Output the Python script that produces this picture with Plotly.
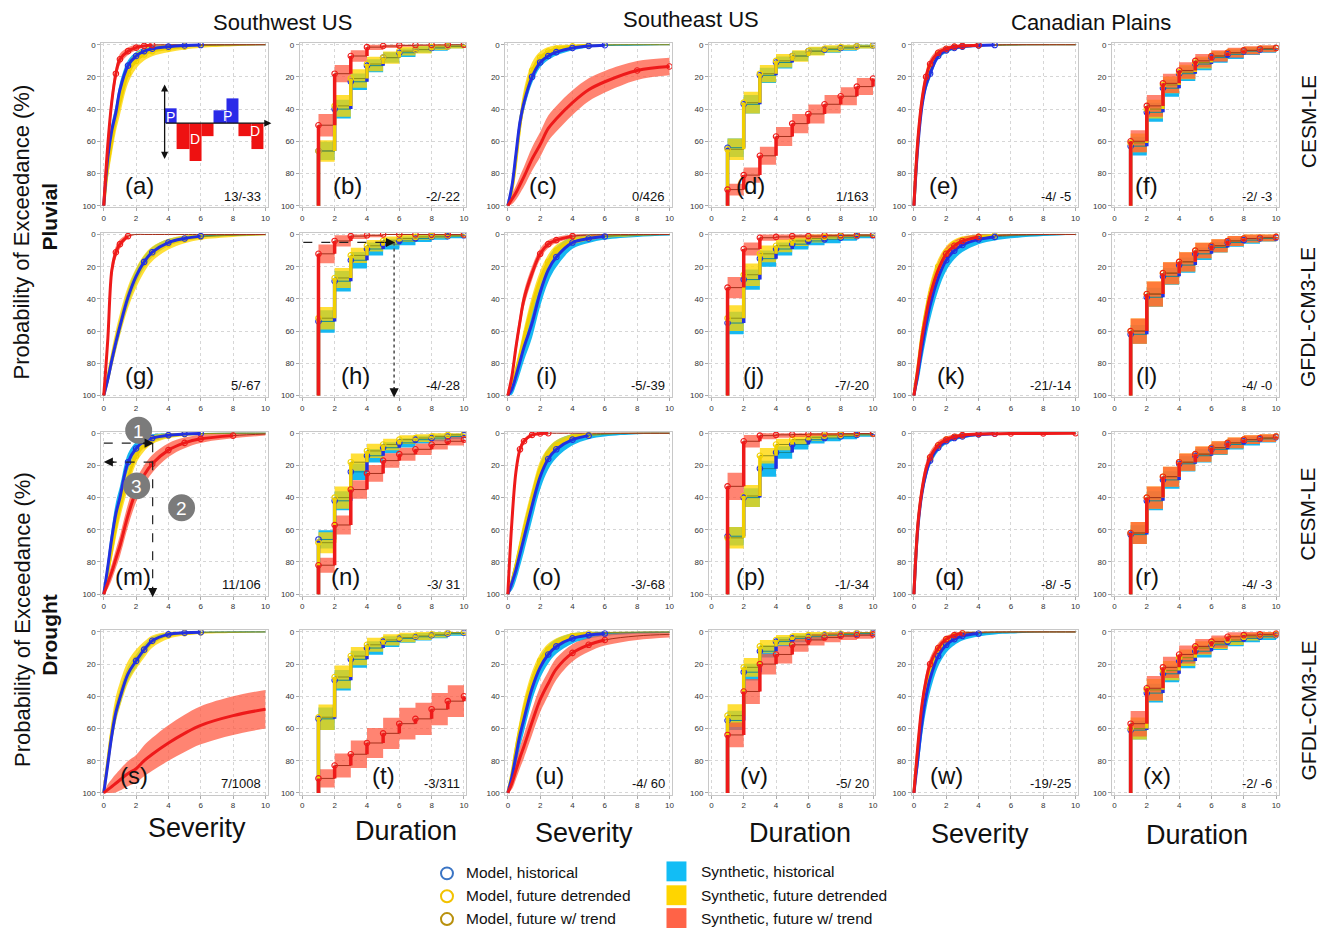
import math
import plotly.graph_objects as go

# ---------------------------------------------------------------------------
# Exceedance probabilities (%) for three experiments in every panel.
#   hist  : historical climate
#   detr  : future climate, detrended
#   trend : future climate with trend
# Severity panels are sampled on SEV_X, duration panels on DUR_X (months).
# *_band  : half-width (%) of the synthetic ensemble spread at p = 50 %
# *_obs   : largest model severity observed for each experiment
# ---------------------------------------------------------------------------
SEV_X = [0, 0.25, 0.5, 0.75, 1, 1.5, 2, 2.5, 3, 4, 5, 6, 8, 10]
DUR_X = [1, 2, 3, 4, 5, 6, 7, 8, 9, 10]

# ---- Pluvial, CESM-LE -----------------------------------------------------
a_hist = [100, 70, 53, 42, 28, 13, 7, 4, 2.5, 1.2, 0.5, 0.2, 0, 0]
a_detr = [100, 76, 60, 46, 36, 18, 10, 6, 4, 2.3, 1.2, 0.6, 0.2, 0]
a_trend = [100, 62, 35, 18, 9, 4, 1.8, 0.7, 0.2, 0, 0, 0, 0, 0]
a_band, a_obs = [5, 8, 6], [6, 5, 3]

b_hist = [66, 40, 23, 13, 8, 5, 3, 2, 1, 0]
b_detr = [66, 38, 21, 12, 8, 4, 3, 1.5, 1, 0]
b_trend = [50, 18, 7, 1.5, 0.8, 0.4, 0.2, 0.1, 0, 0]
b_band = [6, 7, 7]

c_hist = [100, 88, 68, 48, 36, 20, 11, 7, 4.6, 2, 0.8, 0.3, 0.1, 0]
c_detr = [100, 90, 72, 50, 34, 16, 8, 4.3, 2.5, 1, 0.4, 0.1, 0, 0]
c_trend = [100, 96, 92, 87, 82, 71, 62, 52, 46, 36, 28, 23, 16, 13.5]
c_band, c_obs = [5, 7, 8], [6, 5, 10]

d_hist = [64, 37, 19, 11, 7, 4, 3, 2, 1, 0.5]
d_detr = [65, 36, 18, 10, 7, 4, 2.5, 1.5, 1, 0.3]
d_trend = [90, 81, 69, 57, 49, 43, 37, 32, 26, 21]
d_band = [6, 7, 6]

e_hist = [100, 62, 38, 25, 18, 7, 3.5, 2, 1.2, 0.5, 0.2, 0.1, 0, 0]
e_detr = [100, 60, 36, 22, 14, 6, 3, 1.6, 1, 0.4, 0.2, 0.1, 0, 0]
e_trend = [100, 58, 34, 20, 12, 5, 2.5, 1.2, 0.7, 0.3, 0.1, 0, 0, 0]
e_band, e_obs = [4, 4, 5], [5, 4, 4]

f_hist = [63, 42, 27, 18, 12, 8, 6, 4, 3, 2]
f_detr = [61, 40, 25, 17, 11, 7, 5, 3.5, 2.5, 2]
f_trend = [60, 38, 24, 16, 10, 7, 5, 3.5, 2.5, 2]
f_band = [6, 6, 7]

# ---- Pluvial, GFDL-CM3-LE -------------------------------------------------
g_hist = [100, 90, 78, 67, 57, 39, 26, 17, 11, 5, 2.5, 1, 0.3, 0]
g_detr = [100, 89, 77, 66, 56, 39, 27, 18, 12, 6, 3, 1.5, 0.5, 0.1]
g_trend = [100, 65, 22, 11, 6, 1, 0, 0, 0, 0, 0, 0, 0, 0]
g_band, g_obs = [5, 7, 6], [6, 6, 1.5]

h_hist = [54, 29, 16, 9, 6, 4, 2.5, 1.5, 1, 0.5]
h_detr = [52, 27, 13, 7, 4, 2.5, 1.5, 1, 0.5, 0]
h_trend = [12, 4, 1, 0.5, 0, 0, 0, 0, 0, 0]
h_band = [7, 7, 9]

i_hist = [100, 96, 88, 79, 70, 55, 36, 22, 14, 5, 2.5, 1.2, 0.4, 0.1]
i_detr = [100, 94, 85, 75, 64, 44, 28, 17, 10, 4, 2, 1, 0.3, 0]
i_trend = [100, 88, 70, 54, 40, 24, 12, 6, 3.5, 1, 0.3, 0.1, 0, 0]
i_band, i_obs = [9, 6, 5], [6, 5, 4]

j_hist = [55, 28, 15, 9, 6, 4, 3, 2, 1, 0.5]
j_detr = [52, 25, 12, 7, 4, 2.5, 1.5, 1, 0.5, 0]
j_trend = [33, 9, 2, 1.5, 1, 1, 0.5, 0.5, 0.3, 0.2]
j_band = [7, 8, 7]

k_hist = [100, 86, 70, 56, 44, 27, 16, 10, 6.5, 3, 1.5, 0.8, 0.2, 0]
k_detr = [100, 82, 62, 48, 36, 20, 11, 6, 3.5, 1.5, 0.6, 0.3, 0, 0]
k_trend = [100, 83, 64, 50, 38, 22, 12, 7, 4, 1.5, 0.6, 0.2, 0, 0]
k_band, k_obs = [9, 6, 6], [5, 5, 4]

l_hist = [62, 39, 26, 19, 12, 8, 5, 3.5, 2.5, 2]
l_detr = [60, 37, 24, 17, 10, 7, 4, 2.5, 2, 1.5]
l_trend = [60, 37, 24, 17, 10, 7, 4, 2.5, 2, 1.5]
l_band = [6, 8, 8]

# ---- Drought, CESM-LE -----------------------------------------------------
m_hist = [100, 83, 65, 50, 40, 18, 9.5, 5, 3, 1.2, 0.5, 0.2, 0, 0]
m_detr = [100, 86, 72, 58, 46, 28, 14, 7.5, 4, 1.5, 0.6, 0.3, 0, 0]
m_trend = [100, 93, 86, 78, 70, 51, 36, 26, 19, 10.5, 6, 3.5, 1.5, 0.5]
m_band, m_obs = [7, 7, 7], [6, 5, 8]

n_hist = [66, 42, 24, 14, 9, 6, 4, 3, 2, 1]
n_detr = [68, 40, 18, 11, 7, 4, 3, 2, 1, 0.5]
n_trend = [82, 57, 35, 25, 17, 13, 10, 7, 5, 4]
n_band = [6, 7, 6]

o_hist = [100, 93, 85, 75, 65, 45, 27, 16, 10, 4, 1.5, 0.6, 0.1, 0]
o_detr = [100, 92, 82, 71, 60, 40, 22, 13, 7.5, 2.5, 1, 0.3, 0, 0]
o_trend = [100, 55, 24, 10, 5, 1, 0.2, 0, 0, 0, 0, 0, 0, 0]
o_band, o_obs = [9, 6, 4], [5, 5, 2.5]

p_hist = [64, 40, 22, 12, 7, 4, 3, 2, 1, 0.5]
p_detr = [65, 39, 14, 7, 4, 2.5, 1.5, 1, 0.5, 0.3]
p_trend = [33, 5, 1.5, 1, 0.8, 0.5, 0.5, 0.3, 0.2, 0.1]
p_band = [6, 7, 9]

q_hist = [100, 58, 37, 25, 17, 9, 5, 3, 2, 0.8, 0.3, 0.1, 0, 0]
q_detr = [100, 57, 36, 24, 16, 8, 4, 2.5, 1.5, 0.6, 0.2, 0.1, 0, 0]
q_trend = [100, 56, 35, 22, 15, 7.5, 4, 2.2, 1.2, 0.5, 0.3, 0.2, 0.1, 0]
q_band, q_obs = [4, 4, 5], [5, 4, 10]

r_hist = [63, 42, 29, 19, 14, 10, 7, 5, 3.5, 2.5]
r_detr = [62, 40, 27, 18, 13, 9, 6, 4, 3, 2]
r_trend = [62, 40, 27, 18, 13, 9, 6, 4, 3, 2]
r_band = [6, 7, 7]

# ---- Drought, GFDL-CM3-LE -------------------------------------------------
s_hist = [100, 82, 64, 50, 41, 26, 18, 11, 5.5, 1.5, 0.5, 0.2, 0, 0]
s_detr = [100, 80, 62, 48, 39, 25, 17, 11, 6, 2, 0.8, 0.3, 0.1, 0]
s_trend = [100, 98, 96, 94, 92, 88, 85, 80, 76, 69, 63, 58, 52, 48]
s_band, s_obs = [5, 8, 12], [6, 6, 10]

t_hist = [54, 30, 17, 10, 6, 4, 3, 2, 1, 0.5]
t_detr = [53, 28, 15, 8, 5, 3.5, 2.5, 1.5, 0.5, 0]
t_trend = [91, 83, 76, 69, 63, 57, 54, 48, 43, 40]
t_band = [7, 8, 10]

u_hist = [100, 90, 77, 64, 54, 35, 22, 14, 9, 4, 2, 1, 0.3, 0.1]
u_detr = [100, 88, 73, 60, 48, 30, 18, 11, 7, 2.5, 1, 0.4, 0.1, 0]
u_trend = [100, 94, 86, 78, 71, 56, 42, 32, 23, 13, 8, 5, 2.5, 1.5]
u_band, u_obs = [8, 6, 8], [6, 5, 6]

v_hist = [55, 25, 12, 6, 4, 3, 2, 1.5, 1, 0.5]
v_detr = [52, 22, 9, 5, 3, 2, 1.5, 1, 0.5, 0]
v_trend = [64, 37, 20, 14, 8, 5, 3.5, 2.5, 2, 1.5]
v_band = [6, 7, 8]

w_hist = [100, 78, 56, 40, 29, 15, 8, 4.5, 2.5, 1, 0.4, 0.2, 0, 0]
w_detr = [100, 72, 48, 32, 22, 11, 5, 2.5, 1, 0.3, 0.1, 0, 0, 0]
w_trend = [100, 70, 45, 30, 20, 10, 4.5, 2, 0.8, 0.2, 0, 0, 0, 0]
w_band, w_obs = [9, 5, 5], [4, 3, 3]

x_hist = [61, 38, 26, 18, 12, 8, 6, 4, 3, 2]
x_detr = [60, 36, 24, 16, 10, 7, 5, 3, 2, 1.5]
x_trend = [57, 35, 22, 14, 9, 6, 3, 2, 1.5, 1]
x_band = [6, 7, 8]

# Change in mean severity / duration (hist -> detrended / hist -> trend), %
CHANGE_TEXT = ["13/-33", "-2/-22", "0/426", "1/163", "-4/ -5", "-2/ -3",
               "5/-67", "-4/-28", "-5/-39", "-7/-20", "-21/-14", "-4/ -0",
               "11/106", "-3/ 31", "-3/-68", "-1/-34", "-8/ -5", "-4/ -3",
               "7/1008", "-3/311", "-4/ 60", "-5/ 20", "-19/-25", "-2/ -6"]

COLUMN_TITLES = ["Southwest US", "Southeast US", "Canadian Plains"]
ROW_TITLES = ["CESM-LE", "GFDL-CM3-LE", "CESM-LE", "GFDL-CM3-LE"]
X_TITLES = ["Severity", "Duration", "Severity", "Duration", "Severity", "Duration"]

PANELS = [
    (a_hist, a_detr, a_trend, a_band, a_obs), (b_hist, b_detr, b_trend, b_band, None),
    (c_hist, c_detr, c_trend, c_band, c_obs), (d_hist, d_detr, d_trend, d_band, None),
    (e_hist, e_detr, e_trend, e_band, e_obs), (f_hist, f_detr, f_trend, f_band, None),
    (g_hist, g_detr, g_trend, g_band, g_obs), (h_hist, h_detr, h_trend, h_band, None),
    (i_hist, i_detr, i_trend, i_band, i_obs), (j_hist, j_detr, j_trend, j_band, None),
    (k_hist, k_detr, k_trend, k_band, k_obs), (l_hist, l_detr, l_trend, l_band, None),
    (m_hist, m_detr, m_trend, m_band, m_obs), (n_hist, n_detr, n_trend, n_band, None),
    (o_hist, o_detr, o_trend, o_band, o_obs), (p_hist, p_detr, p_trend, p_band, None),
    (q_hist, q_detr, q_trend, q_band, q_obs), (r_hist, r_detr, r_trend, r_band, None),
    (s_hist, s_detr, s_trend, s_band, s_obs), (t_hist, t_detr, t_trend, t_band, None),
    (u_hist, u_detr, u_trend, u_band, u_obs), (v_hist, v_detr, v_trend, v_band, None),
    (w_hist, w_detr, w_trend, w_band, w_obs), (x_hist, x_detr, x_trend, x_band, None),
]

# ---------------------------------------------------------------------------
# Layout geometry (pixels) and styling
# ---------------------------------------------------------------------------
W, H = 1329, 934
COL_X0 = [104, 303, 509, 713, 916, 1117]   # pixel of x = 0 in each column
ROW_Y0 = [42, 233, 433, 633]               # pixel of y = 0 % in each row
SPAN = 162                                 # pixels covering 0-10 / 0-100
XR = (-0.15, 10.15)
YR = (101, -1)

# x position (axis units) of the "(a)" ... "(x)" panel tags
TAG_X = [2.2, 2.8, 2.2, 2.4, 1.85, 2.0,
         2.2, 3.3, 2.4, 2.6, 2.3, 2.0,
         1.8, 2.65, 2.4, 2.4, 2.2, 2.0,
         1.9, 5.0, 2.6, 2.65, 2.0, 2.65]

FONT = "Liberation Sans, Arial, Helvetica, sans-serif"
BAND_COL = ["rgb(22,184,240)", "rgba(255,214,0,0.78)", "rgba(255,84,60,0.72)"]
MED_COL = ["#168a92", "#8f8f18", "#a5301c"]
MODEL_COL = ["#2230e0", "#f0cf00", "#ee1a1a"]
SEV_MODEL_ORDER = [1, 0, 2]   # detrended, historical, trend on top
DUR_MODEL_ORDER = [0, 1, 2]   # historical, detrended, trend on top
TAIL = 20                      # model circles are drawn individually below this %


def px_to_paper_x(px):
    return px / W


def px_to_paper_y(py):
    return 1 - py / H


def half_width(c, w):
    # binomial-like spread: widest at 50 %, closing towards 0 % and 100 %
    c = min(max(c, 0), 100)
    return w * math.sqrt(c * (100 - c)) / 50.0


fig = go.Figure()
layout = {}
annotations = []
shapes = []

for idx, (hist, detr, trend, band, obs) in enumerate(PANELS):
    r, c = divmod(idx, 6)
    n = idx + 1
    xa = "x" if n == 1 else f"x{n}"
    ya = "y" if n == 1 else f"y{n}"
    unit_x = SPAN / 10.0
    unit_y = SPAN / 100.0
    x_left = COL_X0[c] + XR[0] * unit_x
    x_right = COL_X0[c] + XR[1] * unit_x
    y_top = ROW_Y0[r] + YR[1] * unit_y
    y_bot = ROW_Y0[r] + YR[0] * unit_y
    axis_common = dict(showline=True, mirror=True, linecolor="#c8c8c8", linewidth=1,
                       showgrid=True, gridcolor="#d6d6d6", griddash="dot", gridwidth=1,
                       zeroline=False, ticks="outside", ticklen=3, tickcolor="#aaaaaa",
                       tickfont=dict(size=8, color="#333333", family=FONT))
    layout["xaxis" if n == 1 else f"xaxis{n}"] = dict(
        domain=[px_to_paper_x(x_left), px_to_paper_x(x_right)], anchor=ya,
        range=list(XR), tickvals=[0, 2, 4, 6, 8, 10], **axis_common)
    layout["yaxis" if n == 1 else f"yaxis{n}"] = dict(
        domain=[px_to_paper_y(y_bot), px_to_paper_y(y_top)], anchor=xa,
        range=list(YR), tickvals=[0, 20, 40, 60, 80, 100], **axis_common)

    series = [hist, detr, trend]
    severity = obs is not None

    # synthetic ensemble bands
    for k, vals in enumerate(series):
        up = [max(v - half_width(v, band[k]), 0) for v in vals]
        lo = [min(v + half_width(v, band[k]), 100) for v in vals]
        xs = SEV_X if severity else DUR_X
        shape = "spline" if severity else "hv"
        fig.add_trace(go.Scatter(x=xs, y=up, mode="lines", line=dict(width=0, shape=shape),
                                 xaxis=xa, yaxis=ya, hoverinfo="skip", showlegend=False))
        fig.add_trace(go.Scatter(x=xs, y=lo, mode="lines", line=dict(width=0, shape=shape),
                                 fill="tonexty", fillcolor=BAND_COL[k],
                                 xaxis=xa, yaxis=ya, hoverinfo="skip", showlegend=False))

    # ensemble median lines
    for k, vals in enumerate(series):
        if severity:
            fig.add_trace(go.Scatter(x=SEV_X, y=vals, mode="lines",
                                     line=dict(width=1, color=MED_COL[k], shape="spline"),
                                     xaxis=xa, yaxis=ya, hoverinfo="skip", showlegend=False))
        else:
            fig.add_trace(go.Scatter(x=[DUR_X[0]] + DUR_X, y=[100] + vals, mode="lines",
                                     line=dict(width=1, color=MED_COL[k], shape="hv"),
                                     xaxis=xa, yaxis=ya, hoverinfo="skip", showlegend=False))

    # model (climate model output) events
    order = SEV_MODEL_ORDER if severity else DUR_MODEL_ORDER
    for k in order:
        vals = series[k]
        col = MODEL_COL[k]
        circle = dict(symbol="circle-open", size=5.5, color=col, line=dict(width=1.1, color=col))
        if severity:
            xs = [x for x in SEV_X if x <= obs[k]]
            ys = vals[:len(xs)]
            fig.add_trace(go.Scatter(x=xs, y=ys, mode="lines",
                                     line=dict(width=3, color=col, shape="spline"),
                                     xaxis=xa, yaxis=ya, hoverinfo="skip", showlegend=False))
            tx = [x for x, y in zip(xs, ys) if y <= TAIL]
            ty = [y for y in ys if y <= TAIL]
            fig.add_trace(go.Scatter(x=tx, y=ty, mode="markers", marker=circle,
                                     xaxis=xa, yaxis=ya, hoverinfo="skip", showlegend=False))
        else:
            xs, ys = [], []
            prev = 100
            for d, v in zip(DUR_X, vals):
                if prev - v > 0.3:
                    xs += [d, d, None]
                    ys += [prev, v, None]
                prev = v
            fig.add_trace(go.Scatter(x=xs, y=ys, mode="lines",
                                     line=dict(width=3.5, color=col),
                                     xaxis=xa, yaxis=ya, hoverinfo="skip", showlegend=False))
            fig.add_trace(go.Scatter(x=DUR_X, y=vals, mode="markers", marker=circle,
                                     xaxis=xa, yaxis=ya, hoverinfo="skip", showlegend=False))

    # panel tag and change numbers
    tag_y = 87.5 if r < 2 else 89
    annotations.append(dict(x=TAG_X[idx], y=tag_y, xref=xa, yref=ya,
                            text=f"({'abcdefghijklmnopqrstuvwx'[idx]})", showarrow=False,
                            font=dict(size=24, color="#111111", family=FONT)))
    annotations.append(dict(x=9.85, y=94, xref=xa, yref=ya, text=CHANGE_TEXT[idx],
                            xanchor="right", showarrow=False,
                            font=dict(size=13, color="#111111", family=FONT)))


def txt(px, py, text, size, angle=0, bold=False, anchor="center", color="#111111"):
    annotations.append(dict(x=px_to_paper_x(px), y=px_to_paper_y(py), xref="paper", yref="paper",
                            text=f"<b>{text}</b>" if bold else text, showarrow=False,
                            textangle=angle, xanchor=anchor, yanchor="middle",
                            font=dict(size=size, color=color, family=FONT)))


# column, row and axis titles
for px, py, t in zip([283, 693, 1093], [20, 17, 20], COLUMN_TITLES):
    txt(px, py, t, 22)
for py, t in zip([120, 316, 515, 712], ROW_TITLES):
    txt(1311, py, t, 21, angle=-90)
txt(22, 230, "Probability of Exceedance (%)", 22, angle=-90)
txt(50, 215, "Pluvial", 21, angle=-90, bold=True)
txt(22, 620, "Probability of Exceedance (%)", 22, angle=-90)
txt(50, 636, "Drought", 21, angle=-90, bold=True)
for px, py, t in zip([197, 407, 585, 802, 982, 1200], [830, 833, 835, 835, 836, 837], X_TITLES):
    txt(px, py, t, 27)


def rect(x0, y0, x1, y1, color, line=None):
    shapes.append(dict(type="rect", xref="paper", yref="paper",
                       x0=px_to_paper_x(x0), x1=px_to_paper_x(x1),
                       y0=px_to_paper_y(y0), y1=px_to_paper_y(y1),
                       fillcolor=color, line=dict(width=0) if line is None else line))


def seg(x0, y0, x1, y1, dash="dash", width=1.2, color="#222222"):
    shapes.append(dict(type="line", xref="paper", yref="paper",
                       x0=px_to_paper_x(x0), x1=px_to_paper_x(x1),
                       y0=px_to_paper_y(y0), y1=px_to_paper_y(y1),
                       line=dict(color=color, width=width, dash=dash)))


def arrow(px, py, dx, dy, size=1.3, side="end", width=1.3):
    # arrow pointing at (px, py), tail offset by (dx, dy) pixels
    annotations.append(dict(x=px_to_paper_x(px), y=px_to_paper_y(py), xref="paper", yref="paper",
                            ax=dx, ay=dy, showarrow=True, arrowhead=2, arrowsize=size,
                            arrowwidth=width, arrowcolor="#111111", arrowside=side, text=""))


def badge(px, py, label):
    shapes.append(dict(type="circle", xref="paper", yref="paper",
                       x0=px_to_paper_x(px - 13.5), x1=px_to_paper_x(px + 13.5),
                       y0=px_to_paper_y(py + 13.5), y1=px_to_paper_y(py - 13.5),
                       fillcolor="#7b7b7b", line=dict(width=0)))
    txt(px, py + 1, label, 19, color="white")


# pluvial / drought schematic in panel (a)
P_BLUE, D_RED = "#2a2ae8", "#ee1111"
rect(165, 106, 177, 121, P_BLUE)
rect(177, 121, 190, 147, D_RED)
rect(190, 121, 202, 159, D_RED)
rect(202, 121, 214, 134, D_RED)
rect(214, 108, 227, 121, P_BLUE)
rect(227, 96, 239, 121, P_BLUE)
rect(239, 121, 252, 134, D_RED)
rect(252, 121, 264, 147, D_RED)
txt(171, 115, "P", 14, color="white")
txt(228, 114, "P", 14, color="white")
txt(195, 137, "D", 14, color="white")
txt(256, 129, "D", 14, color="white")
annotations.append(dict(x=px_to_paper_x(165), y=px_to_paper_y(82), xref="paper", yref="paper",
                        ax=0, ay=76, showarrow=True, arrowhead=2, arrowsize=1.1, arrowwidth=1.3,
                        arrowcolor="#111111", arrowside="end+start", text=""))
arrow(272, 121, -107, 0, size=1.1)

# reading example in panel (h)
seg(304, 241, 392, 241)
arrow(396, 241, -12, 0, size=1.4)
seg(395, 241, 395, 385, dash="dot", width=1.6, color="#555555")
arrow(395, 397, 0, -12, size=1.4)

# reading example in panel (m)
seg(104, 443, 150, 443)
arrow(154, 443, -12, 0, size=1.4)
seg(153, 443, 153, 588)
arrow(153, 598, 0, -12, size=1.4)
seg(153, 462, 112, 462)
arrow(104, 462, 12, 0, size=1.4)
badge(139, 430, "1")
badge(137, 486, "3")
badge(182, 508, "2")

# legend
LEG_MODEL = ["Model, historical", "Model, future detrended", "Model, future w/ trend"]
LEG_SYN = ["Synthetic, historical", "Synthetic, future detrended", "Synthetic, future w/ trend"]
CIRCLE_COL = ["#3a74c4", "#f2c200", "#b8900c"]
SQUARE_COL = ["#12bdf5", "#ffd500", "#ff6347"]
for k, (py_c, py_s) in enumerate(zip([876, 899, 922], [874, 898, 921])):
    shapes.append(dict(type="circle", xref="paper", yref="paper",
                       x0=px_to_paper_x(442), x1=px_to_paper_x(454),
                       y0=px_to_paper_y(py_c + 6), y1=px_to_paper_y(py_c - 6),
                       fillcolor="rgba(0,0,0,0)", line=dict(color=CIRCLE_COL[k], width=2)))
    txt(465, py_c - 1, LEG_MODEL[k], 15.5, anchor="left")
    rect(668, py_s - 10, 688, py_s + 10, SQUARE_COL[k])
    txt(701, py_s, LEG_SYN[k], 15.5, anchor="left")

layout.update(width=W, height=H, margin=dict(l=0, r=0, t=0, b=0),
              paper_bgcolor="white", plot_bgcolor="white",
              showlegend=False, annotations=annotations, shapes=shapes,
              font=dict(family=FONT))
fig.update_layout(**layout)
fig.write_html("out.html")
